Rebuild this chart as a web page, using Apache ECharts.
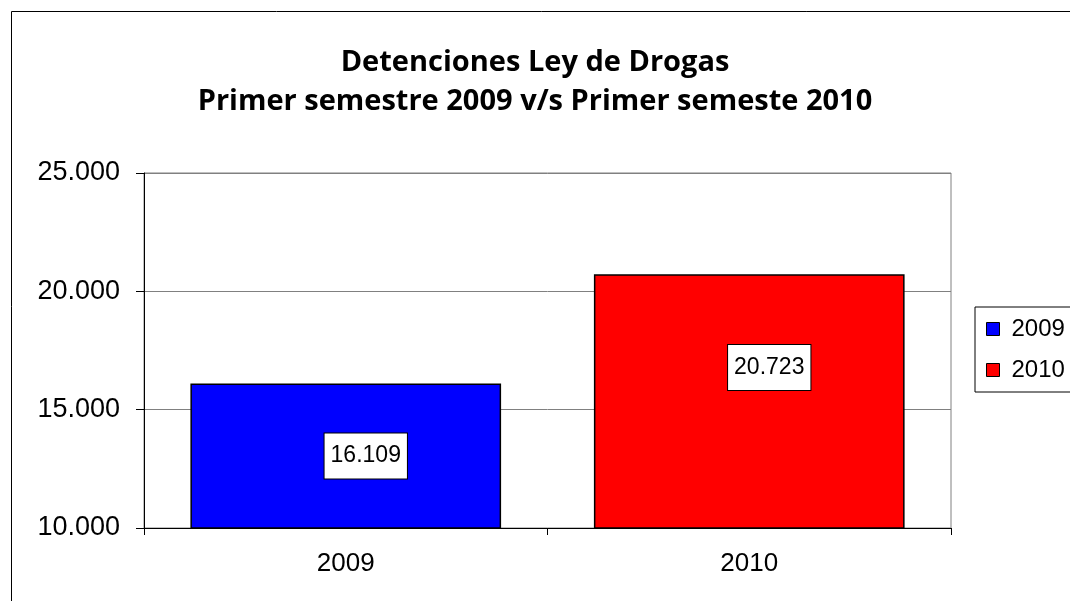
<!DOCTYPE html>
<html><head><meta charset="utf-8">
<script src="https://cdn.jsdelivr.net/npm/echarts@6/dist/echarts.min.js"></script>
<style>html,body{margin:0;padding:0;background:#fff}#c{width:1070px;height:601px}</style>
</head><body><div id="c"></div>
<script>
var categories = ['2009', '2010'];
var values2009 = [16109, '-'];
var values2010 = ['-', 20723];
var yTicks = [10000, 15000, 20000, 25000];
var titleLines = ['Detenciones Ley de Drogas', 'Primer semestre 2009 v/s Primer semeste 2010'];

function fmt(v){ return String(v).replace(/\B(?=(\d{3})+(?!\d))/g, '.'); }

var chart = echarts.init(document.getElementById('c'), null, {renderer:'canvas'});
var lbl = {
  show:true, position:'inside', formatter:function(p){return fmt(p.value);},
  backgroundColor:'#fff', borderColor:'#000', borderWidth:1,
  padding:[11,6,11,6], color:'#000', fontFamily:'Liberation Sans, Arial', fontSize:23
};
chart.setOption({
  animation:false,
  graphic:[{type:'rect', shape:{x:11.5,y:11.5,width:1100,height:700}, style:{fill:'none', stroke:'#000', lineWidth:1}}],
  title:{
    text:titleLines.join('\n'), left:'center', top:38,
    textStyle:{fontFamily:'Open Sans, sans-serif', fontWeight:'bold', fontSize:29, lineHeight:39, color:'#000'}
  },
  legend:{
    orient:'vertical', left:975, top:307, itemWidth:13, itemHeight:13, itemGap:17, icon:'rect',
    borderColor:'#000', borderWidth:1, padding:[10,10,10,11],
    textStyle:{fontFamily:'Liberation Sans, Arial', fontSize:24, color:'#000', padding:[0,0,0,7]},
    data:[{name:'2009', itemStyle:{borderColor:'#000', borderWidth:1}},{name:'2010', itemStyle:{borderColor:'#000', borderWidth:1}}]
  },
  grid:{left:144, top:173, width:807, height:355, show:true, borderColor:'#808080', borderWidth:1},
  xAxis:[{
    type:'category', data:categories,
    axisLine:{lineStyle:{color:'#000', width:1}},
    axisTick:{show:true, length:7, lineStyle:{color:'#000'}},
    axisLabel:{fontFamily:'Liberation Sans, Arial', fontSize:26, color:'#000', margin:23}
  },{
    type:'category', data:categories, show:false
  }],
  yAxis:{
    type:'value', min:yTicks[0], max:yTicks[yTicks.length-1], interval:5000,
    axisLine:{show:true, lineStyle:{color:'#000', width:1}},
    axisTick:{show:true, length:8, inside:false, lineStyle:{color:'#000'}},
    splitLine:{lineStyle:{color:'#808080', width:1}},
    axisLabel:{fontFamily:'Liberation Sans, Arial', fontSize:27, color:'#000', margin:24, formatter:fmt}
  },
  series:[{
    name:'2009', type:'bar', xAxisIndex:0, data:values2009, barWidth:'77%',
    itemStyle:{color:'#0000ff', borderColor:'#000', borderWidth:1.5},
    label:Object.assign({}, lbl, {offset:[20,0]})
  },{
    name:'2010', type:'bar', xAxisIndex:1, data:values2010, barWidth:'77%',
    itemStyle:{color:'#ff0000', borderColor:'#000', borderWidth:1.5},
    label:Object.assign({}, lbl, {offset:[20,-34]})
  }]
});
</script></body></html>
